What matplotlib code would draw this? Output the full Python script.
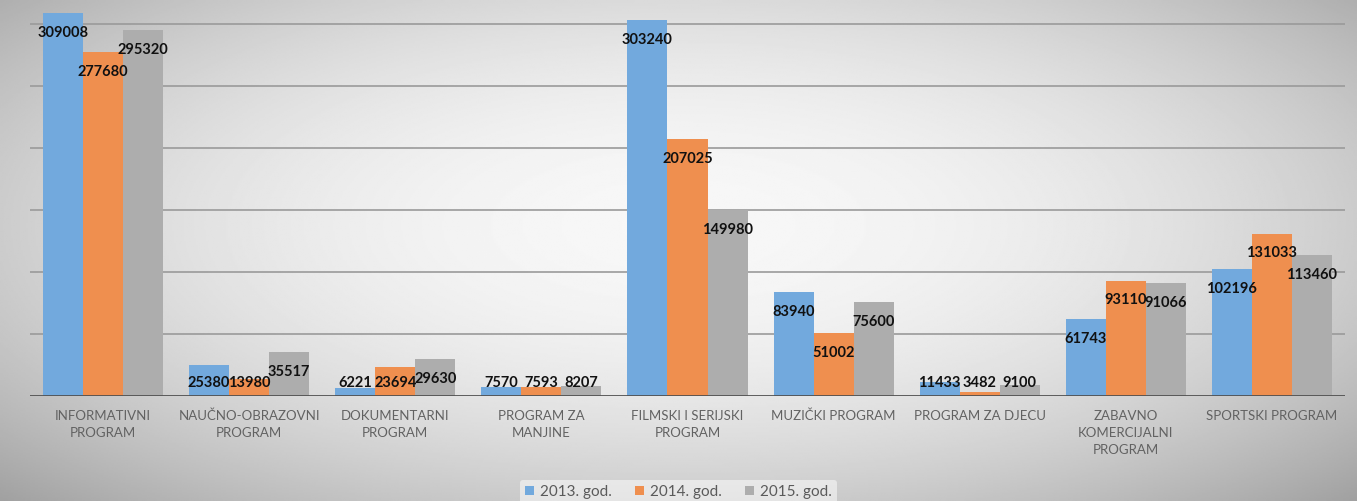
import numpy as np
import matplotlib.pyplot as plt

categories = ['INFORMATIVNI\nPROGRAM', 'NAUČNO-OBRAZOVNI\nPROGRAM', 'DOKUMENTARNI\nPROGRAM',
              'PROGRAM ZA\nMANJINE', 'FILMSKI I SERIJSKI\nPROGRAM', 'MUZIČKI PROGRAM',
              'PROGRAM ZA DJECU', 'ZABAVNO\nKOMERCIJALNI\nPROGRAM', 'SPORTSKI PROGRAM']
series_names = ['2013. god.', '2014. god.', '2015. god.']
v2013 = [309008, 25380, 6221, 7570, 303240, 83940, 11433, 61743, 102196]
v2014 = [277680, 13980, 23694, 7593, 207025, 51002, 3482, 93110, 131033]
v2015 = [295320, 35517, 29630, 8207, 149980, 75600, 9100, 91066, 113460]
colors = ['#72a9dd', '#ef8f4f', '#adadad']

fig = plt.figure(figsize=(13.57, 5.01), dpi=100)

# radial gradient background
bg = fig.add_axes([0, 0, 1, 1])
yy, xx = np.mgrid[-1:1:300j, -1:1:800j]
r2 = (xx / 1.0) ** 2 + ((yy + 0.1) / 1.1) ** 2
shade = np.clip(0.97 - 0.17 * r2, 0, 1)
bg.imshow(shade, cmap='gray', vmin=0, vmax=1, aspect='auto', extent=[0, 1, 0, 1])
bg.axis('off')

ax = fig.add_axes([30 / 1357, 1 - 396 / 501, 1315 / 1357, 396 / 501])
ax.patch.set_alpha(0)
x = np.arange(len(categories))
w = 0.274
for i, vals in enumerate([v2013, v2014, v2015]):
    pos = x + (i - 1) * w
    ax.bar(pos, vals, width=w, color=colors[i], label=series_names[i], zorder=2)
    for px, v in zip(pos, vals):
        ax.text(px, max(v - 16000, 10500), str(v), ha='center', va='center',
                fontsize=10.5, fontweight='bold', family='Lato', color='#111111', zorder=4)

ax.set_xlim(-0.5, len(categories) - 0.5)
ax.set_ylim(0, 319400)
ax.set_yticks(range(50000, 300001, 50000))
ax.yaxis.grid(True, color='#9a9a9a', linewidth=1.2, zorder=0)
ax.set_yticklabels([])
ax.tick_params(axis='y', length=0)
ax.axhline(0, color='#505050', linewidth=2, zorder=3)
for s in ax.spines.values():
    s.set_visible(False)
ax.set_xticks(x)
ax.set_xticklabels(categories, family='Lato', fontsize=9.5, color='#626262', linespacing=1.5)
ax.tick_params(axis='x', length=0, pad=10)

leg = fig.legend(loc='center', bbox_to_anchor=(0.5, 0.018), ncol=3, frameon=True,
                 prop={'family': 'Lato', 'size': 11}, handlelength=0.6, handleheight=0.6,
                 handletextpad=0.4, columnspacing=1.5, borderpad=0.3)
leg.get_frame().set_facecolor('white')
leg.get_frame().set_alpha(0.5)
leg.get_frame().set_edgecolor('none')
for t in leg.get_texts():
    t.set_color('#5a5a5a')

fig.savefig('out.png', dpi=100)
